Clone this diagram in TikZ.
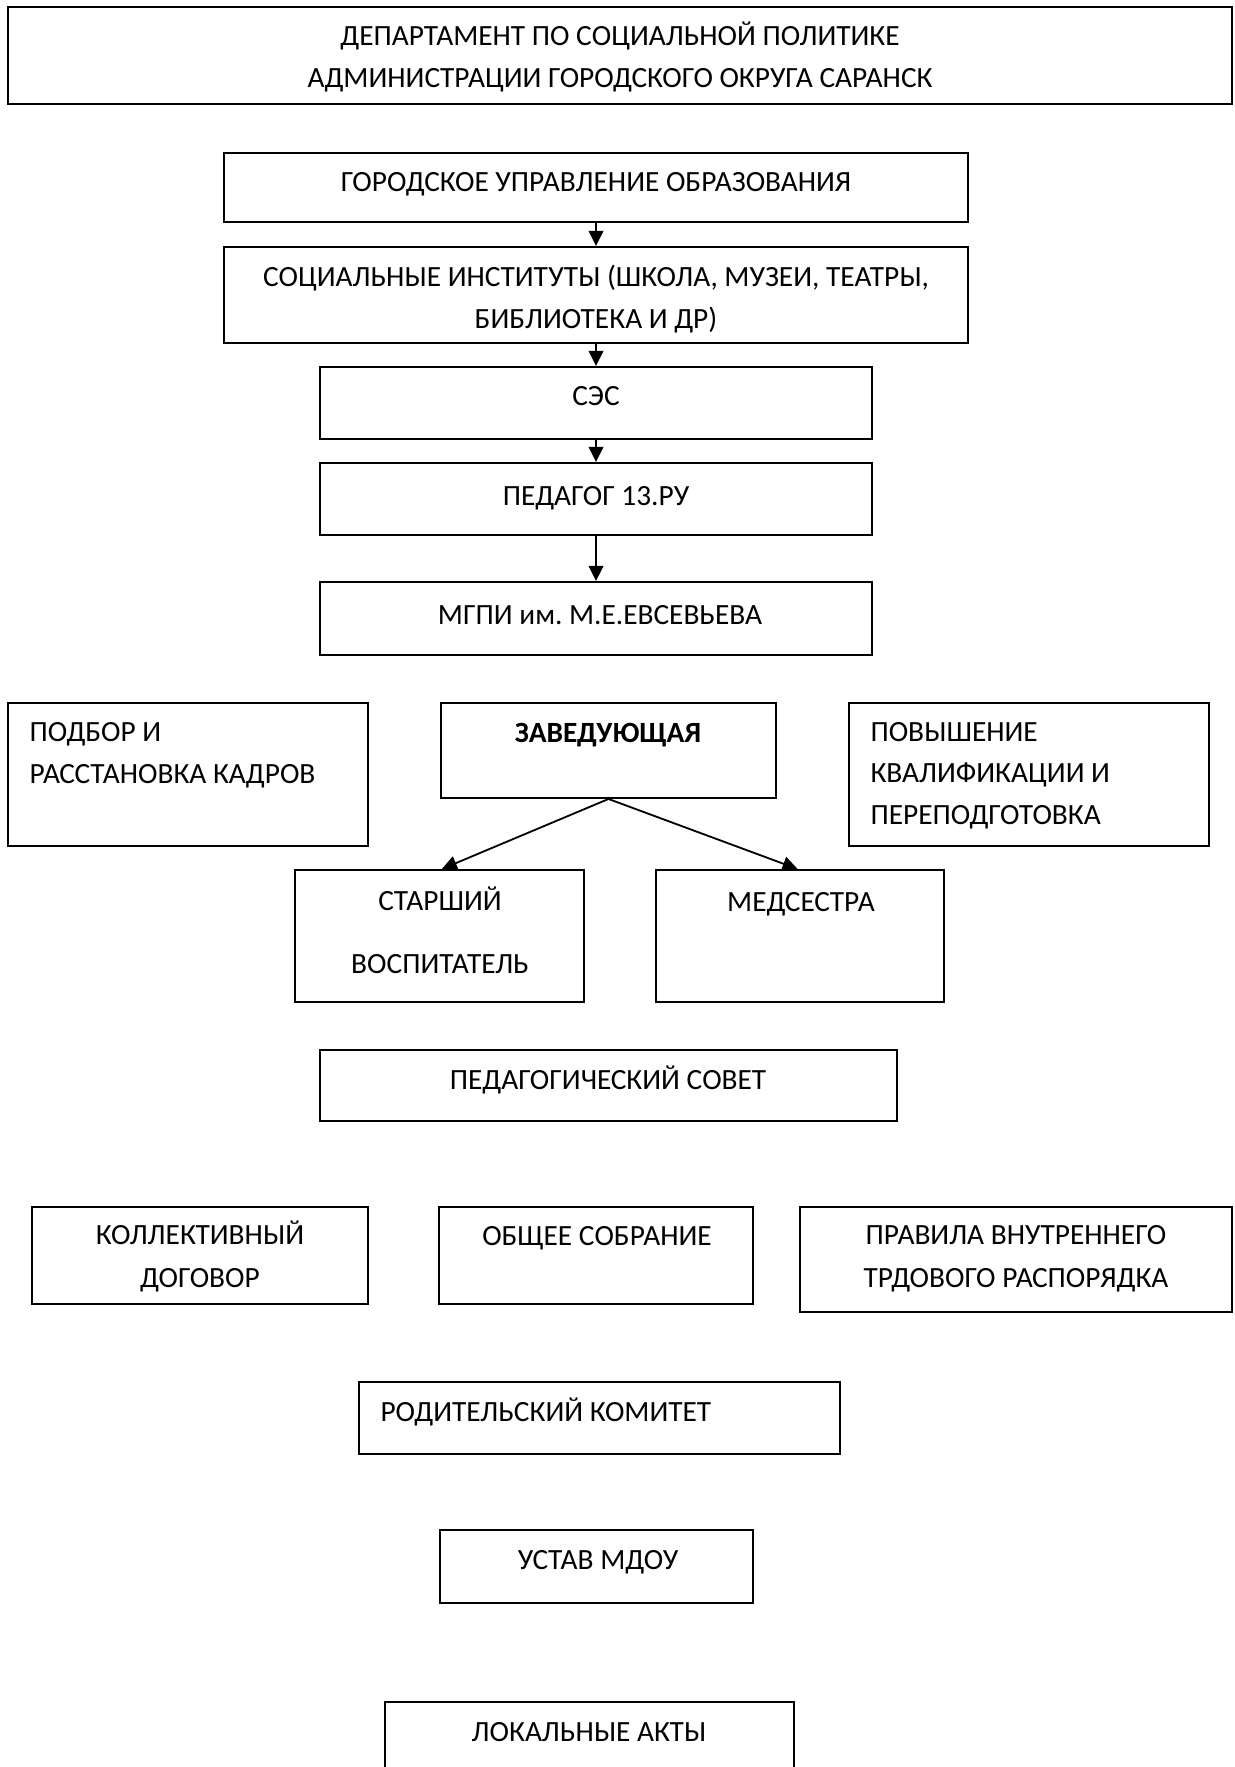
\documentclass[tikz,border=0pt]{standalone}
\usepackage{fontspec}
\setmainfont{Carlito}
\usetikzlibrary{positioning}
\usetikzlibrary{fit}
\usetikzlibrary{arrows.meta}
\tikzset{
  box/.style={draw, line width=0.75pt, inner sep=0pt},
  txt/.style={align=center, anchor=base, inner sep=0pt, font=\fontsize{11.3}{15.8}\selectfont},
  ltxt/.style={align=left, anchor=base west, inner sep=0pt, font=\fontsize{11.3}{15.8}\selectfont},
  arr/.style={-{Triangle[length=5.8pt,width=5.6pt]}, line width=0.7pt}
}

\begin{document}
\begin{tikzpicture}[x=0.385pt, y=-0.385pt]
  \useasboundingbox (0,0) rectangle (1234,1767);

  \node[box, fit={(8,7) (1232,104)}] (dept) {};
  \node[txt, font=\fontsize{11.3}{16.55}\selectfont] (deptT) at (620,88) {ДЕПАРТАМЕНТ ПО СОЦИАЛЬНОЙ ПОЛИТИКЕ\\АДМИНИСТРАЦИИ ГОРОДСКОГО ОКРУГА САРАНСК};

  \node[box, fit={(224,153) (968,222)}] (guo) {};
  \node[txt] (guoT) at (596,192) {ГОРОДСКОЕ УПРАВЛЕНИЕ ОБРАЗОВАНИЯ};

  \node[box, fit={(224,247) (968,343)}] (inst) {};
  \node[txt, font=\fontsize{11.3}{16.55}\selectfont] (instT) at (596,329) {СОЦИАЛЬНЫЕ ИНСТИТУТЫ (ШКОЛА, МУЗЕИ, ТЕАТРЫ,\\БИБЛИОТЕКА И ДР)};

  \node[box, fit={(320,367) (872,439)}] (ses) {};
  \node[txt] (sesT) at (596,406) {СЭС};

  \node[box, fit={(320,463) (872,535)}] (ped13) {};
  \node[txt] (ped13T) at (596,506) {ПЕДАГОГ 13.РУ};

  \node[box, fit={(320,582) (872,655)}] (mgpi) {};
  \node[txt] (mgpiT) at (600,624) {МГПИ им.\ М.Е.ЕВСЕВЬЕВА};

  \node[box, fit={(8,703) (368,846)}] (kadry) {};
  \node[ltxt] (kadryT) at (29,783) {ПОДБОР И\\РАССТАНОВКА КАДРОВ};

  \node[box, fit={(441,703) (776,798)}] (zav) {};
  \node[txt] (zavT) at (608,742) {\bfseries ЗАВЕДУЮЩАЯ};

  \node[box, fit={(849,703) (1209,846)}] (kval) {};
  \node[ltxt] (kvalT) at (870,824) {ПОВЫШЕНИЕ\\КВАЛИФИКАЦИИ И\\ПЕРЕПОДГОТОВКА};

  \node[box, fit={(295,870) (584,1002)}] (star) {};
  \node[txt, font=\fontsize{11.3}{23.9}\selectfont] (starT) at (440,973) {СТАРШИЙ\\ВОСПИТАТЕЛЬ};

  \node[box, fit={(656,870) (944,1002)}] (med) {};
  \node[txt] (medT) at (801,911) {МЕДСЕСТРА};

  \node[box, fit={(320,1050) (897,1121)}] (sovet) {};
  \node[txt] (sovetT) at (608,1089) {ПЕДАГОГИЧЕСКИЙ СОВЕТ};

  \node[box, fit={(32,1207) (368,1304)}] (dogovor) {};
  \node[txt, font=\fontsize{11.3}{16.2}\selectfont] (dogovorT) at (200,1287) {КОЛЛЕКТИВНЫЙ\\ДОГОВОР};

  \node[box, fit={(439,1207) (753,1304)}] (sobr) {};
  \node[txt] (sobrT) at (597,1245) {ОБЩЕЕ СОБРАНИЕ};

  \node[box, fit={(800,1207) (1232,1312)}] (pravila) {};
  \node[txt, font=\fontsize{11.3}{16.2}\selectfont] (pravilaT) at (1016,1287) {ПРАВИЛА ВНУТРЕННЕГО\\ТРДОВОГО РАСПОРЯДКА};

  \node[box, fit={(359,1382) (840,1454)}] (rodkom) {};
  \node[ltxt] (rodkomT) at (380,1421) {РОДИТЕЛЬСКИЙ КОМИТЕТ};

  \node[box, fit={(440,1530) (753,1603)}] (ustav) {};
  \node[txt] (ustavT) at (598,1569) {УСТАВ МДОУ};

  \node[box, fit={(385,1702) (794,1800)}] (akty) {};
  \node[txt] (aktyT) at (589,1741) {ЛОКАЛЬНЫЕ АКТЫ};

  \path[arr] (guo) edge (inst);
  \path[arr] (inst) edge (ses);
  \path[arr] (ses) edge (ped13);
  \path[arr] (ped13) edge (mgpi);

  \path[arr] (zav.south) edge ([xshift=0.9pt]star.north);
  \path[arr] (zav.south) edge ([xshift=-0.9pt]med.north);
\end{tikzpicture}
\end{document}
